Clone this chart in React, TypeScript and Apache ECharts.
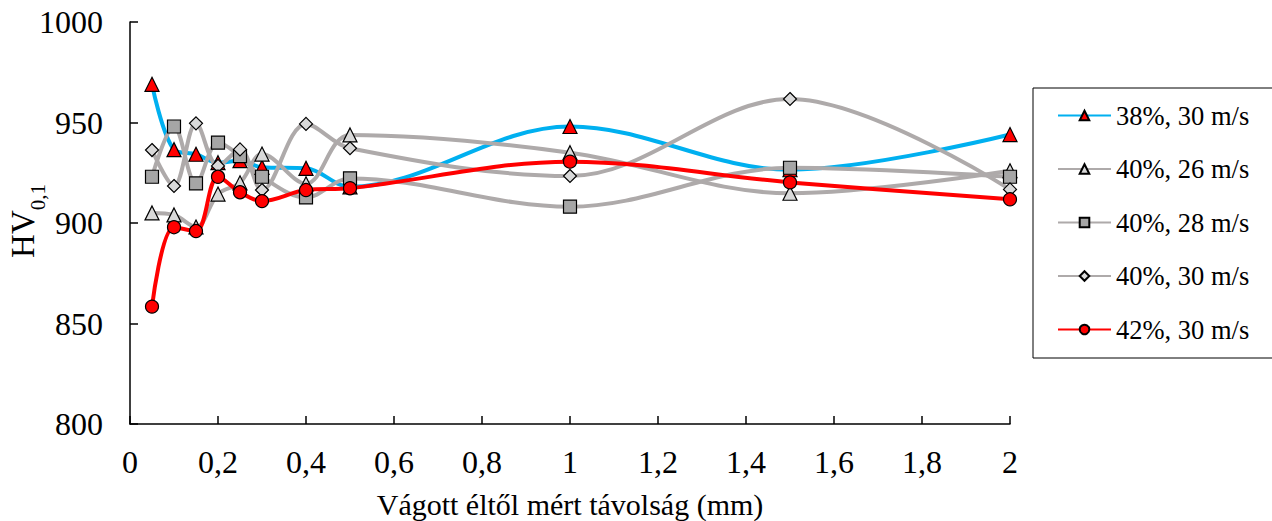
import React, { useEffect, useRef } from "react";
import * as echarts from "echarts";

const xValues = [0.05, 0.1, 0.15, 0.2, 0.25, 0.3, 0.4, 0.5, 1, 1.5, 2];
const s38_30 = [969, 936.5, 934.2, 930, 931, 927.7, 927.2, 918, 948, 926.5, 944];
const s40_26 = [905, 904, 898, 914.4, 920, 934.3, 919.5, 943.8, 935, 914.8, 926];
const s40_28 = [923, 948, 919.7, 940, 933.3, 923, 912.7, 922.2, 908.1, 927.5, 923];
const s40_30 = [936.3, 918.4, 949.6, 928.4, 936.6, 916.4, 949.3, 937.2, 923.4, 961.7, 916.7];
const s42_30 = [858.4, 897.9, 896, 923, 915.3, 910.9, 916.4, 917.3, 930.5, 920.2, 911.8];
const seriesNames = ["38%, 30 m/s", "40%, 26 m/s", "40%, 28 m/s", "40%, 30 m/s", "42%, 30 m/s"];

const FONT = "Liberation Serif";

const pairs = (ys: number[]) => xValues.map((x, i) => [x, ys[i]]);

export default function App() {
  const ref = useRef<HTMLDivElement>(null);
  useEffect(() => {
    if (!ref.current) return;
    const chart = echarts.init(ref.current, null, { renderer: "svg" });
    const mk = (
      name: string,
      data: number[],
      lineColor: string,
      symbol: string,
      symbolSize: number,
      fill: string
    ) => ({
      name,
      type: "line",
      data: pairs(data),
      smooth: 0.35,
      symbol,
      symbolSize,
      lineStyle: { color: lineColor, width: 4 },
      itemStyle: { color: fill, borderColor: "#000", borderWidth: 1.2 },
    });
    chart.setOption({
      animation: false,
      textStyle: { fontFamily: FONT },
      grid: { left: 130, right: 262, top: 22, bottom: 97, containLabel: false, outerBoundsMode: "none" },
      legend: {
        orient: "vertical",
        left: 1033,
        top: 88,
        borderColor: "#000",
        borderWidth: 1,
        padding: [14, 120, 15, 24],
        itemWidth: 53,
        itemHeight: 12,
        itemGap: 26.5,
        textStyle: { fontFamily: FONT, fontSize: 26.5, color: "#000" },
        data: seriesNames,
      },
      graphic: [
        {
          type: "text",
          x: 21,
          y: 221,
          rotation: Math.PI / 2,
          style: {
            text: "{m|HV}{s|0,1}",
            align: "center",
            verticalAlign: "middle",
            rich: {
              m: { fontFamily: FONT, fontSize: 33, fill: "#000", lineHeight: 36, verticalAlign: "bottom" },
              s: { fontFamily: FONT, fontSize: 21, fill: "#000", lineHeight: 36, verticalAlign: "bottom", padding: [0, 0, -9, 0] },
            },
          },
        },
      ],
      xAxis: {
        type: "value",
        min: 0,
        max: 2,
        interval: 0.2,
        name: "Vágott éltől mért távolság (mm)",
        nameLocation: "middle",
        nameGap: 65,
        nameTextStyle: { fontFamily: FONT, fontSize: 30, color: "#000" },
        axisLine: { show: true, lineStyle: { color: "#000", width: 1.5 } },
        axisTick: { show: true, inside: true, length: 8, lineStyle: { color: "#000", width: 1.5 } },
        splitLine: { show: false },
        axisLabel: {
          fontFamily: FONT,
          fontSize: 32,
          color: "#000",
          margin: 22,
          formatter: (v: number) => (Math.round(v * 10) / 10).toString().replace(".", ","),
        },
      },
      yAxis: {
        type: "value",
        min: 800,
        max: 1000,
        interval: 50,
        axisLine: { show: true, lineStyle: { color: "#000", width: 1.5 } },
        axisTick: { show: true, inside: true, length: 8, lineStyle: { color: "#000", width: 1.5 } },
        splitLine: { show: false },
        axisLabel: {
          fontFamily: FONT,
          fontSize: 32,
          color: "#000",
          margin: 27,
          formatter: (v: number) => String(v),
        },
      },
      series: [
        mk(seriesNames[0], s38_30, "#00B0F0", "triangle", 14, "#FF0000"),
        mk(seriesNames[1], s40_26, "#AEAAAA", "triangle", 14, "#D9D9D9"),
        mk(seriesNames[2], s40_28, "#AEAAAA", "rect", 13, "#A6A6A6"),
        mk(seriesNames[3], s40_30, "#AEAAAA", "diamond", 13, "#D9D9D9"),
        mk(seriesNames[4], s42_30, "#FF0000", "circle", 13, "#FF0000"),
      ],
    });
    return () => chart.dispose();
  }, []);
  return <div ref={ref} style={{ width: 1272, height: 521, position: "absolute", left: 0, top: 0 }} />;
}
